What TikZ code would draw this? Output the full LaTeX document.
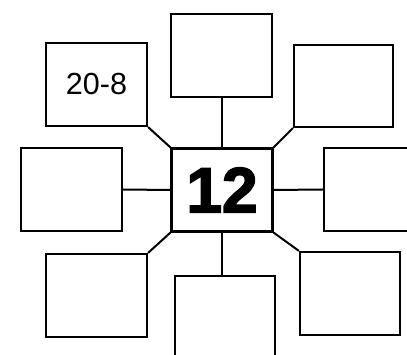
\documentclass[tikz,border=0pt]{standalone}
\usepackage{fontspec}
\setmainfont{Liberation Sans}
\newfontfamily\heavyfont[FakeBold=2.5]{Liberation Sans Bold}
\begin{document}
\begin{tikzpicture}[x=1pt,y=-1pt,
  box/.style={draw=black,line width=2.2pt,rectangle,inner sep=0pt,minimum width=101pt,minimum height=83pt,fill=white},
  link/.style={draw=black,line width=2pt}]
\useasboundingbox (0,0) rectangle (407,355);
\clip (0,0) rectangle (407,355);
\fill[white] (0,0) rectangle (407,355);
\node[box] (c) at (222,190) {\fontsize{64}{64}\heavyfont 12};
\node[box] (t) at (221.5,55.5) {};
\node[box] (tl) at (96.5,84.5) {\fontsize{30.5}{30.5}\selectfont 20-8};
\node[box,minimum width=99pt,minimum height=82pt] (tr) at (343.5,86) {};
\node[box] (l) at (71.5,189.5) {};
\node[box] (r) at (374.5,189.5) {};
\node[box] (bl) at (96.5,295.5) {};
\node[box,minimum width=100pt] (b) at (225,317.5) {};
\node[box,minimum width=100pt] (br) at (350,293.5) {};
\draw[link] (t.south) -- (c.north -| t.south);
\draw[link] (tl.south east) -- (c.north west);
\draw[link] (tr.south west) -- (c.north east);
\draw[link] (l.east) -- (c.west);
\draw[link] (r.west) -- (c.east);
\draw[link] (bl.north east) -- (c.south west);
\draw[link] (b.north -| c.south) -- (c.south);
\draw[link] (br.north west) -- (c.south east);
\end{tikzpicture}
\end{document}
